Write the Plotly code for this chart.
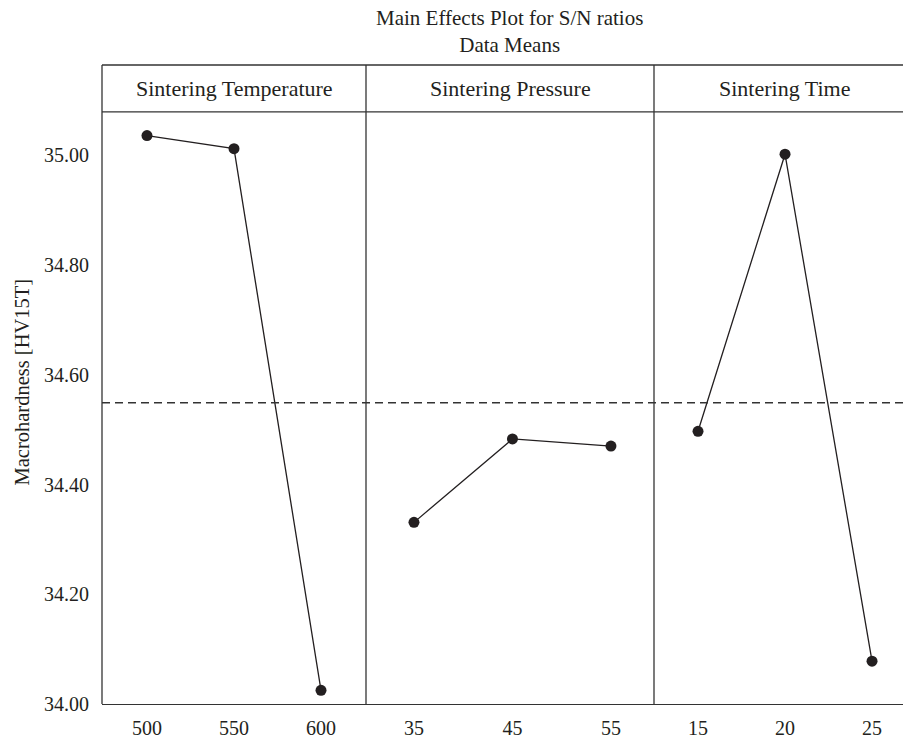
import plotly.graph_objects as go

# ---- data ----
temp_levels = ["500", "550", "600"]
temp_vals = [35.036, 35.012, 34.025]
press_levels = ["35", "45", "55"]
press_vals = [34.331, 34.483, 34.470]
time_levels = ["15", "20", "25"]
time_vals = [34.497, 35.002, 34.078]
overall_mean = 34.549
panel_titles = ["Sintering Temperature", "Sintering Pressure", "Sintering Time"]
y_ticks = [34.0, 34.2, 34.4, 34.6, 34.8, 35.0]

FONT = "Liberation Serif"
INK = "#231f20"
W, H = 903, 739
ML, MT, MB = 102, 65, 30
plot_w = W - ML
plot_h = H - MT - MB
px = lambda x: (x - ML) / plot_w
y_top_dom = (709 - 112.3) / plot_h

d1 = (0.0, px(366))
d2 = (px(366), px(654))
d3 = (px(654), 1.0)

fig = go.Figure()
series = [(temp_levels, temp_vals, "x"), (press_levels, press_vals, "x2"), (time_levels, time_vals, "x3")]
for lv, vals, xa in series:
    fig.add_trace(go.Scatter(
        x=lv, y=vals, xaxis=xa, yaxis="y", mode="lines+markers",
        line=dict(color=INK, width=1.3),
        marker=dict(color=INK, size=11),
        showlegend=False, hoverinfo="skip"))

axis_common = dict(type="category", showgrid=False, zeroline=False, showline=True,
                   linecolor="#333333", linewidth=1.3, ticks="", anchor="y",
                   tickfont=dict(family=FONT, size=20, color=INK), ticklabelstandoff=6)
fig.update_layout(
    xaxis=dict(domain=list(d1), range=[-0.517, 2.517], **axis_common),
    xaxis2=dict(domain=list(d2), range=[-0.487, 2.437], **axis_common),
    xaxis3=dict(domain=list(d3), range=[-0.506, 2.356], **axis_common),
    yaxis=dict(domain=[0, y_top_dom], range=[34.0, 35.079], tickvals=y_ticks,
               tickformat=".2f", showgrid=False, zeroline=False, showline=False,
               ticks="", tickfont=dict(family=FONT, size=20, color=INK),
               ticklabelstandoff=12, anchor="x"),
    width=W, height=H, margin=dict(l=ML, r=0, t=MT, b=MB),
    plot_bgcolor="white", paper_bgcolor="white",
)

line_style = dict(color="#333333", width=1.3)
shapes = []
for xv in [0.0, d2[0], d3[0]]:
    shapes.append(dict(type="line", xref="paper", yref="paper", x0=xv, x1=xv, y0=0, y1=1, line=line_style))
for yv in [1.0, y_top_dom]:
    shapes.append(dict(type="line", xref="paper", yref="paper", x0=0, x1=1, y0=yv, y1=yv, line=line_style))
shapes.append(dict(type="line", xref="paper", yref="y", x0=0, x1=1, y0=overall_mean, y1=overall_mean,
                   line=dict(color="#333333", width=1.3, dash="8px,5px")))
fig.update_layout(shapes=shapes)

hy = (1.0 + y_top_dom) / 2
centers = [px(234), px(510), px(784)]
ann = []
for c, t in zip(centers, panel_titles):
    ann.append(dict(text=t, x=c, y=hy, xref="paper", yref="paper", showarrow=False,
                    xanchor="center", yanchor="middle", font=dict(family=FONT, size=22, color=INK)))
ann.append(dict(text="Main Effects Plot for S/N ratios<br>Data Means", x=px(509),
                y=1 + (MT - 31) / plot_h, xref="paper", yref="paper", showarrow=False,
                xanchor="center", yanchor="middle", font=dict(family=FONT, size=21, color=INK)))
ann.append(dict(text="Macrohardness [HV15T]", x=px(22), y=(709 - 385) / plot_h, xref="paper", yref="paper",
                showarrow=False, textangle=-90, xanchor="center", yanchor="middle",
                font=dict(family=FONT, size=20.5, color=INK)))
fig.update_layout(annotations=ann)

fig.write_html("out.html")
